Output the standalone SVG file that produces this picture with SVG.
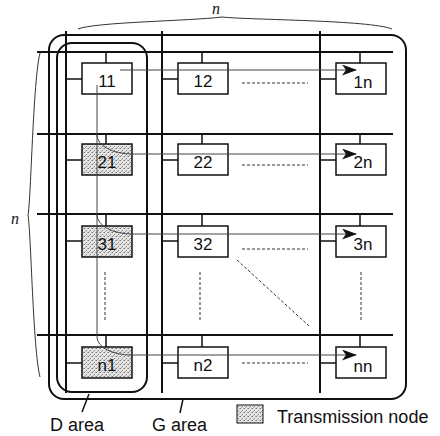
<svg xmlns="http://www.w3.org/2000/svg" width="440" height="436" viewBox="0 0 440 436">
<style>
.bus{stroke:#111;stroke-width:2;fill:none}
.area{stroke:#111;stroke-width:2;fill:none}
.box{fill:#fff;stroke:#111;stroke-width:1.5}
.tbox{fill:url(#stip);stroke:#111;stroke-width:1.5}
.stub{stroke:#111;stroke-width:1.5;fill:none}
.thin{stroke:#444;stroke-width:1;fill:none}
.dash{stroke:#333;stroke-width:1;stroke-dasharray:3 2;fill:none}
.brace{stroke:#333;stroke-width:1;fill:none}
.lbl{font-family:"Liberation Sans",Arial,sans-serif;font-size:17px;fill:#111;text-anchor:middle}
.cap{font-family:"Liberation Sans",Arial,sans-serif;font-size:18px;fill:#111}
.nn{font-family:"Liberation Serif","Times New Roman",serif;font-style:italic;font-size:16px;fill:#111}
</style>
<defs>
<pattern id="stip" width="4" height="4" patternUnits="userSpaceOnUse">
<rect width="4" height="4" fill="#e4e4e4"/>
<rect x="0" y="0" width="1" height="1" fill="#777"/>
<rect x="2" y="2" width="1" height="1" fill="#888"/>
<rect x="3" y="0" width="1" height="1" fill="#aaa"/>
<rect x="1" y="3" width="1" height="1" fill="#aaa"/>
</pattern>
<marker id="arr" viewBox="0 0 15 11" refX="14" refY="5.5" markerWidth="15" markerHeight="11" markerUnits="userSpaceOnUse" orient="auto">
<path d="M0,0 L15,5.5 L0,11 L4,5.5 Z" fill="#111"/>
</marker>
</defs>

<g id="braces">
<path class="brace" d="M78,29 C95,22 190,21 222,17 C250,20 370,20 392,29"/>
<text class="nn" x="212" y="14">n</text>
<path class="brace" d="M40,53 C33,80 31,200 28,215 C31,232 33,350 40,377"/>
<text class="nn" x="11" y="224">n</text>
</g>

<g id="areas">
<rect id="g-area" class="area" x="49" y="35" width="357" height="364" rx="15"/>
<rect id="d-area" class="area" x="57" y="43" width="90" height="349" rx="15"/>
</g>

<g id="connectors">
<line class="bus" x1="66" y1="31" x2="66" y2="393"/>
<line class="bus" x1="162" y1="31" x2="162" y2="393"/>
<line class="bus" x1="320" y1="31" x2="320" y2="393"/>
<line class="bus" x1="37" y1="52" x2="393" y2="52"/>
<line class="bus" x1="37" y1="134" x2="393" y2="134"/>
<line class="bus" x1="37" y1="214" x2="393" y2="214"/>
<line class="bus" x1="37" y1="335" x2="393" y2="335"/>
<path class="stub" d="M106,52V63 M202,52V63 M360,52V63 M106,134V144 M202,134V144 M360,134V144 M106,214V226 M202,214V226 M360,214V226 M106,335V347 M202,335V347 M360,335V347"/>
<path class="stub" d="M66,79H82 M162,79H178 M320,79H336 M66,160H82 M162,160H178 M320,160H336 M66,241H82 M162,241H178 M320,241H336 M66,363H82 M162,363H178 M320,363H336"/>
<line class="stub" x1="89" y1="394" x2="82" y2="412"/>
<line class="stub" x1="183" y1="399" x2="180" y2="413"/>
</g>

<g id="n11"><rect class="box" x="82" y="63" width="50" height="31"/><text class="lbl" x="107" y="87">11</text></g>
<g id="n12"><rect class="box" x="178" y="63" width="50" height="31"/><text class="lbl" x="203" y="87">12</text></g>
<g id="n1n"><rect class="box" x="336" y="63" width="50" height="31"/><text class="lbl" x="363" y="88">1n</text></g>
<g id="n21"><rect class="tbox" x="82" y="144" width="50" height="31"/><text class="lbl" x="107" y="168">21</text></g>
<g id="n22"><rect class="box" x="178" y="144" width="50" height="31"/><text class="lbl" x="203" y="168">22</text></g>
<g id="n2n"><rect class="box" x="336" y="144" width="50" height="31"/><text class="lbl" x="363" y="168">2n</text></g>
<g id="n31"><rect class="tbox" x="82" y="226" width="50" height="31"/><text class="lbl" x="107" y="250">31</text></g>
<g id="n32"><rect class="box" x="178" y="226" width="50" height="31"/><text class="lbl" x="203" y="250">32</text></g>
<g id="n3n"><rect class="box" x="336" y="226" width="50" height="31"/><text class="lbl" x="363" y="250">3n</text></g>
<g id="nn1"><rect class="tbox" x="82" y="347" width="50" height="31"/><text class="lbl" x="107" y="371">n1</text></g>
<g id="nn2"><rect class="box" x="178" y="347" width="50" height="31"/><text class="lbl" x="203" y="371">n2</text></g>
<g id="nnn"><rect class="box" x="336" y="347" width="50" height="31"/><text class="lbl" x="363" y="372">nn</text></g>

<g id="paths">
<line class="thin" x1="97" y1="85" x2="97" y2="337"/>
<line class="thin" x1="120" y1="70" x2="356" y2="70" marker-end="url(#arr)"/>
<path class="thin" d="M97,135 A35,19 0 0 0 132,154 H356" marker-end="url(#arr)"/>
<path class="thin" d="M97,215 A35,19 0 0 0 132,234 H356" marker-end="url(#arr)"/>
<path class="thin" d="M97,337 A34,18 0 0 0 131,355 H356" marker-end="url(#arr)"/>
<line class="dash" x1="242" y1="83" x2="308" y2="83"/>
<line class="dash" x1="242" y1="165" x2="308" y2="165"/>
<line class="dash" x1="242" y1="249" x2="308" y2="249"/>
<line class="dash" x1="242" y1="363" x2="308" y2="363"/>
<line class="dash" x1="105" y1="272" x2="105" y2="321"/>
<line class="dash" x1="200" y1="272" x2="200" y2="321"/>
<line class="dash" x1="361" y1="272" x2="361" y2="321"/>
<line class="dash" x1="237" y1="260" x2="309" y2="326"/>
</g>

<g id="labels">
<text class="cap" x="50" y="431">D area</text>
<text class="cap" x="152" y="431">G area</text>
</g>

<g id="legend">
<rect class="tbox" x="237" y="405" width="26" height="18" style="stroke-width:1"/>
<text class="cap" x="277" y="423">Transmission node</text>
</g>
</svg>
